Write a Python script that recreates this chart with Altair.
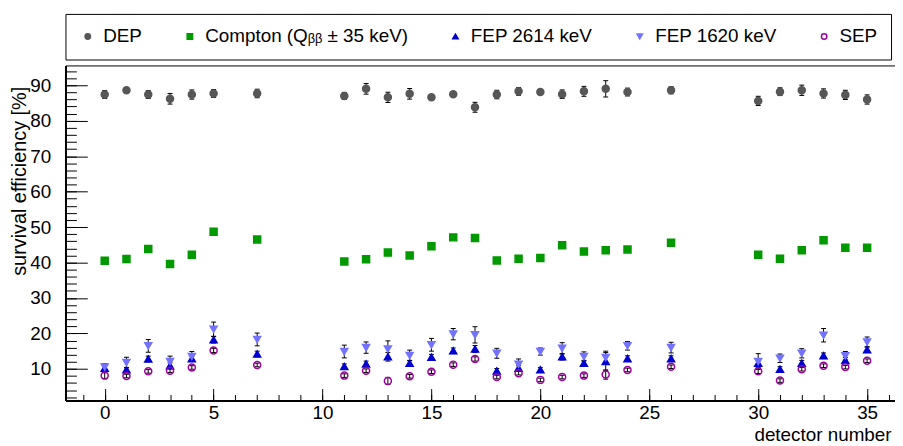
import altair as alt
import pandas as pd

detectors = [0, 1, 2, 3, 4, 5, 7, 11, 12, 13, 14, 15, 16, 17, 18, 19, 20,
             21, 22, 23, 24, 26, 30, 31, 32, 33, 34, 35]

dep = [87.4, 88.6, 87.4, 86.2, 87.4, 87.7, 87.7, 87.0, 89.0, 86.6, 87.6, 86.6, 87.5, 83.8,
       87.4, 88.3, 88.1, 87.5, 88.3, 89.0, 88.1, 88.6, 85.6, 88.2, 88.6, 87.7, 87.3, 86.0]
dep_err = [1.1, 0.3, 1.1, 1.5, 1.3, 1.1, 1.2, 1.0, 1.5, 1.45, 1.5, 0.3, 0.3, 1.4,
           1.2, 1.1, 0.3, 1.2, 1.4, 2.3, 1.1, 1.0, 1.3, 1.1, 1.45, 1.3, 1.3, 1.3]

compton = [40.5, 41.0, 43.8, 39.6, 42.2, 48.7, 46.5, 40.3, 40.9, 42.8, 42.0, 44.6, 47.1, 46.9,
           40.6, 41.1, 41.3, 44.9, 43.1, 43.5, 43.7, 45.6, 42.2, 41.1, 43.5, 46.3, 44.2, 44.2]
compton_err = [0.3] * 28

fep2614 = [10.2, 9.75, 12.8, 10.9, 12.9, 18.2, 14.2, 10.7, 11.4, 13.4, 11.6, 13.3, 15.1, 15.6,
           9.4, 10.2, 9.75, 13.4, 11.6, 12.1, 12.9, 12.9, 11.6, 9.9, 11.6, 13.7, 12.4, 15.4]
fep2614_err = [1.0, 0.6, 0.8, 0.8, 0.8, 0.9, 0.8, 0.7, 0.8, 1.2, 0.8, 0.8, 0.8, 1.0,
               0.7, 0.7, 0.6, 0.9, 0.8, 2.5, 0.8, 0.8, 1.2, 0.7, 0.8, 0.8, 0.8, 0.8]

fep1620 = [10.5, 11.8, 16.5, 12.1, 13.5, 21.2, 18.3, 14.9, 16.0, 15.6, 13.8, 16.8, 19.8, 19.6,
           14.4, 11.3, 14.9, 15.8, 13.5, 13.2, 16.5, 16.0, 12.1, 13.0, 14.4, 19.5, 13.7, 17.6]
fep1620_err = [1.0, 1.5, 1.8, 1.5, 1.4, 2.0, 1.8, 1.8, 1.6, 2.3, 1.5, 1.8, 1.6, 2.3,
               1.4, 1.5, 1.0, 1.6, 1.3, 1.8, 1.2, 1.5, 2.2, 1.2, 1.3, 1.9, 1.2, 1.4]

sep = [8.1, 8.0, 9.3, 9.5, 10.4, 15.2, 11.1, 8.1, 9.5, 6.6, 7.9, 9.2, 11.2, 12.8,
       7.7, 8.8, 6.9, 7.7, 8.1, 8.4, 9.7, 10.6, 9.3, 6.7, 9.9, 10.9, 10.5, 12.3]
sep_err = [0.8, 0.5, 0.5, 0.5, 0.5, 0.6, 0.5, 0.5, 0.5, 1.0, 0.5, 0.5, 0.5, 0.6,
           0.5, 0.5, 0.5, 0.5, 0.5, 1.3, 0.5, 0.5, 0.6, 0.5, 0.5, 0.5, 0.5, 0.5]

series_names = ['DEP', 'Compton (Q\u1d66\u1d66 \u00b1 35 keV)', 'FEP 2614 keV',
                'FEP 1620 keV', 'SEP']
shapes = ['circle', 'square', 'triangle-up', 'triangle-down', 'circle']
fills = ['#575757', '#009a00', '#0000d0', '#7373ff', 'transparent']
strokes = ['#575757', '#009a00', '#0000d0', '#7373ff', '#9c009c']

rows = []
for name, vals, errs in zip(series_names,
                            [dep, compton, fep2614, fep1620, sep],
                            [dep_err, compton_err, fep2614_err, fep1620_err, sep_err]):
    for d, v, e in zip(detectors, vals, errs):
        rows.append({'detector': d, 'series': name, 'value': v, 'err': e})
df = pd.DataFrame(rows)

W, H = 837, 338
FONT = 'Liberation Sans'

xs = alt.Scale(domain=[-1.8, 36.28], nice=False, zero=False)
ys = alt.Scale(domain=[1.1, 95.6], nice=False, zero=False)

x_labels = alt.Axis(orient='bottom', values=list(range(0, 36, 5)), tickSize=0,
                    labelPadding=3, labelFontSize=19, labelFont=FONT, labelColor='black',
                    labelFlush=False, labelOverlap=False, grid=False,
                    domainColor='black', domainWidth=2,
                    title='detector number', titleFontSize=19,
                    titleFont=FONT, titleFontWeight='normal', titleColor='black',
                    titleAlign='right', titleBaseline='alphabetic', titleX=W - 4, titleY=40)
y_labels = alt.Axis(orient='left', values=list(range(10, 91, 10)), tickSize=0,
                    labelPadding=15, labelFontSize=19, labelFont=FONT, labelColor='black',
                    grid=False, domainColor='black', domainWidth=2,
                    title='survival efficiency [%]', titleFontSize=20, titleFont=FONT,
                    titleFontWeight='normal', titleColor='black', titleAngle=270,
                    titleAlign='right', titleBaseline='alphabetic', titleX=-40, titleY=21)
x_major = alt.Axis(orient='top', offset=-H, values=list(range(0, 36, 5)), tickSize=12,
                   tickColor='black', labels=False, domain=False, grid=False, title=None)
y_major = alt.Axis(orient='right', offset=-W, values=list(range(10, 91, 10)), tickSize=22,
                   tickColor='black', labels=False, domain=False, grid=False, title=None)
x_minor = alt.Axis(orient='top', offset=-H, values=list(range(-1, 37)), tickSize=6,
                   tickColor='black', labels=False, domain=False, grid=False, title=None)
y_minor = alt.Axis(orient='right', offset=-W, values=list(range(2, 96, 2)), tickSize=11,
                   tickColor='black', labels=False, domain=False, grid=False, title=None)

leg = alt.Legend(title=None, orient='none', legendX=0, legendY=-52, direction='horizontal',
                 padding=13, strokeColor='black', fillColor='white', labelFontSize=19,
                 labelFont=FONT, labelColor='black', labelLimit=400, symbolSize=30,
                 symbolStrokeWidth=1.5, columnPadding=38, labelOffset=6)

base = alt.Chart(df).transform_calculate(
    lo='datum.value - datum.err', hi='datum.value + datum.err')

bars = base.mark_rule(color='black', strokeWidth=1).encode(
    x=alt.X('detector:Q', scale=xs, axis=x_labels),
    y=alt.Y('lo:Q', scale=ys, axis=y_labels),
    y2='hi:Q')

caps_lo = base.mark_tick(orient='horizontal', color='black', size=5, thickness=1,
                         opacity=1).encode(
    x=alt.X('detector:Q', scale=xs, axis=x_major),
    y=alt.Y('lo:Q', scale=ys, axis=y_major))

caps_hi = base.mark_tick(orient='horizontal', color='black', size=5, thickness=1,
                         opacity=1).encode(
    x=alt.X('detector:Q', scale=xs, axis=x_minor),
    y=alt.Y('hi:Q', scale=ys, axis=y_minor))

points = base.mark_point(size=50, opacity=1, strokeWidth=1.5).encode(
    x=alt.X('detector:Q', scale=xs, axis=None),
    y=alt.Y('value:Q', scale=ys, axis=None),
    shape=alt.Shape('series:N', scale=alt.Scale(domain=series_names, range=shapes),
                    sort=series_names, legend=leg),
    fill=alt.Fill('series:N', scale=alt.Scale(domain=series_names, range=fills),
                  sort=series_names, legend=leg),
    stroke=alt.Stroke('series:N', scale=alt.Scale(domain=series_names, range=strokes),
                      sort=series_names, legend=leg))

chart = alt.layer(bars, caps_lo, caps_hi, points).resolve_axis(
    x='independent', y='independent'
).properties(
    width=W, height=H,
    autosize=alt.AutoSizeParams(type='none'),
    padding={'left': 58, 'top': 56, 'right': 0, 'bottom': 44},
    background='white'
).configure_view(stroke='black', strokeWidth=1)

chart.save("out.html", embed_options={"renderer": "svg", "actions": False})
